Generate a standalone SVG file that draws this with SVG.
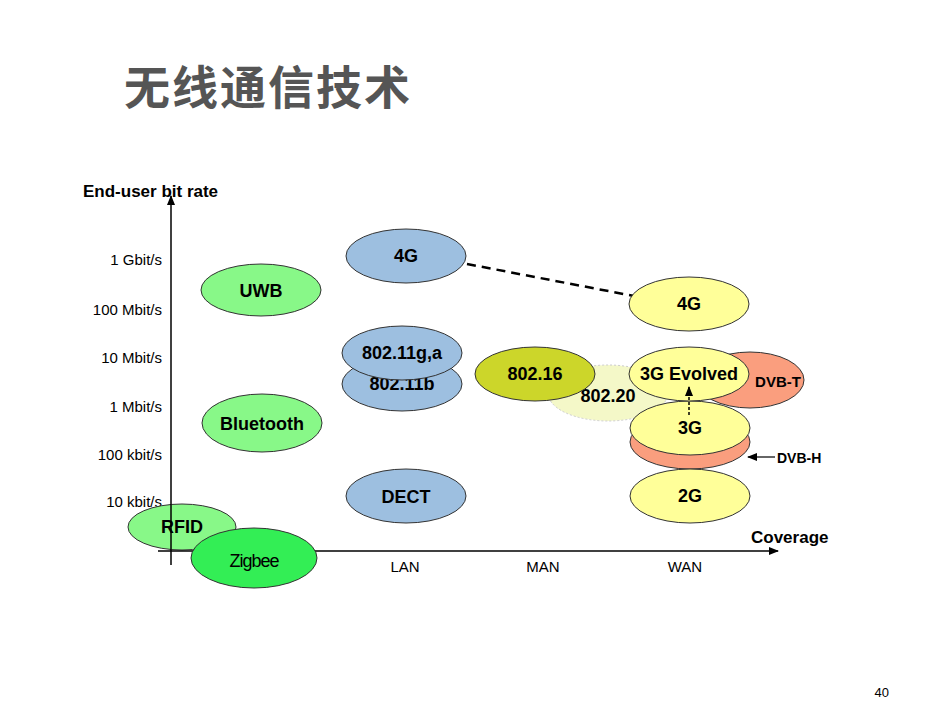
<svg xmlns="http://www.w3.org/2000/svg" width="950" height="713" viewBox="0 0 950 713">
<defs>
<marker id="ah" markerWidth="10" markerHeight="8" refX="9" refY="4" orient="auto" markerUnits="userSpaceOnUse"><path d="M0,0 L10,4 L0,8 z" fill="#000"/></marker>
</defs>
<style>
text{font-family:"Liberation Sans",Arial,sans-serif;fill:#000}
.l{font-size:15px;text-anchor:end}
.n{font-size:18px;font-weight:bold;text-anchor:middle}
.e{stroke:#333;stroke-width:1}
</style>
<rect width="950" height="713" fill="#fff"/>
<text x="124" y="104" font-size="46" font-weight="bold" fill="#666" style="font-family:'Noto Sans CJK SC',sans-serif;fill:#555" letter-spacing="2">无线通信技术</text>
<text x="83" y="197" font-size="17" font-weight="bold">End-user bit rate</text>
<text class="l" x="162" y="265">1 Gbit/s</text>
<text class="l" x="162" y="315">100 Mbit/s</text>
<text class="l" x="162" y="363">10 Mbit/s</text>
<text class="l" x="162" y="412">1 Mbit/s</text>
<text class="l" x="162" y="460">100 kbit/s</text>
<text class="l" x="162" y="507">10 kbit/s</text>
<text x="751" y="543" font-size="17" font-weight="bold">Coverage</text>
<text x="405" y="572" font-size="15" text-anchor="middle">LAN</text>
<text x="543" y="572" font-size="15" text-anchor="middle">MAN</text>
<text x="685" y="572" font-size="15" text-anchor="middle">WAN</text>
<text x="889" y="697" font-size="13" text-anchor="end">40</text>
<g id="rfid"><ellipse class="e" cx="182" cy="527" rx="54" ry="23" fill="#88f888"/><text class="n" x="182" y="533">RFID</text></g>
<g id="connectors">
<line x1="171" y1="565" x2="171" y2="196" stroke="#000" stroke-width="1.5" marker-end="url(#ah)"/>
<line x1="158" y1="551" x2="778" y2="551" stroke="#000" stroke-width="1.5" marker-end="url(#ah)"/>
<line x1="467" y1="264" x2="634" y2="296" stroke="#000" stroke-width="2.5" stroke-dasharray="9,6"/>
<line x1="689" y1="415" x2="689" y2="387" stroke="#000" stroke-width="1.5" stroke-dasharray="3,2" marker-end="url(#ah)"/>
<line x1="775" y1="457" x2="748" y2="457" stroke="#000" stroke-width="1.2" marker-end="url(#ah)"/>
</g>
<g id="zigbee"><ellipse class="e" cx="254" cy="558" rx="63" ry="30" fill="#33ee55"/><text class="n" x="254" y="567" font-size="22" style="font-weight:normal;letter-spacing:-1px">Zigbee</text></g>
<g id="uwb"><ellipse class="e" cx="261" cy="290" rx="60" ry="26" fill="#88f888"/><text class="n" x="261" y="297">UWB</text></g>
<g id="bluetooth"><ellipse class="e" cx="262" cy="423" rx="60" ry="29" fill="#88f888"/><text class="n" x="262" y="430">Bluetooth</text></g>
<g id="4g-lan"><ellipse class="e" cx="406" cy="256" rx="60" ry="27" fill="#9dbfe0"/><text class="n" x="406" y="262">4G</text></g>
<g id="80211b"><ellipse class="e" cx="402" cy="384" rx="60" ry="27" fill="#9dbfe0"/><text class="n" x="402" y="390">802.11b</text></g>
<g id="80211ga"><ellipse class="e" cx="402" cy="353" rx="60" ry="27" fill="#9dbfe0"/><text class="n" x="402" y="359">802.11g,a</text></g>
<g id="dect"><ellipse class="e" cx="406" cy="496" rx="60" ry="27" fill="#9dbfe0"/><text class="n" x="406" y="503">DECT</text></g>
<g id="80220"><ellipse cx="608" cy="393" rx="60" ry="28" fill="#f4f8c8" stroke="#ccc" stroke-dasharray="2,2"/><text class="n" x="608" y="402">802.20</text></g>
<g id="80216"><ellipse class="e" cx="535" cy="374" rx="60" ry="27" fill="#ccd62a"/><text class="n" x="535" y="380">802.16</text></g>
<g id="dvbt"><ellipse class="e" cx="750" cy="380" rx="54" ry="28" fill="#fa9e7e"/><text x="778" y="387" font-size="15" font-weight="bold" text-anchor="middle">DVB-T</text></g>
<g id="4g-wan"><ellipse class="e" cx="689" cy="304" rx="60" ry="27" fill="#ffff99"/><text class="n" x="689" y="310">4G</text></g>
<g id="dvbh"><ellipse class="e" cx="690" cy="442" rx="60" ry="27" fill="#fa9e7e"/></g>
<g id="3g"><ellipse class="e" cx="690" cy="428" rx="60" ry="27" fill="#ffff99"/><text class="n" x="690" y="434">3G</text></g>
<g id="3gev"><ellipse class="e" cx="689" cy="374" rx="60" ry="27" fill="#ffff99"/><text class="n" x="689" y="380" font-size="16">3G Evolved</text></g>
<text x="777" y="463" font-size="14" font-weight="bold">DVB-H</text>
<g id="2g"><ellipse class="e" cx="690" cy="496" rx="60" ry="27" fill="#ffff99"/><text class="n" x="690" y="502">2G</text></g>
<line x1="689" y1="415" x2="689" y2="387" stroke="#000" stroke-width="1.5" stroke-dasharray="3,2" marker-end="url(#ah)"/>
</svg>
